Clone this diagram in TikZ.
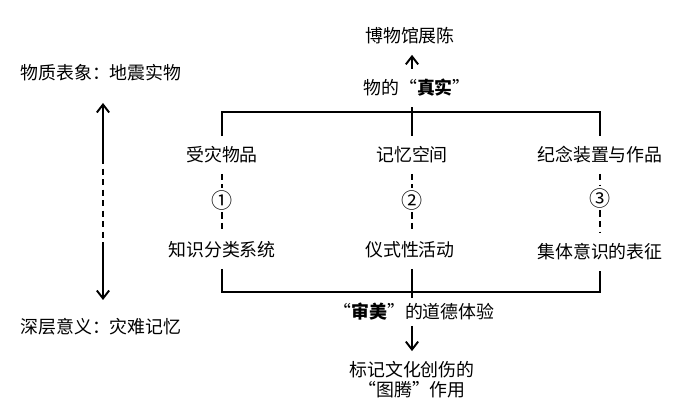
\documentclass[tikz,border=0pt]{standalone}
\usepackage{fontspec}
\setmainfont{Noto Sans CJK SC}
\usepackage{tikz}
\usetikzlibrary{arrows.meta}

\begin{document}
\begin{tikzpicture}[x=0.02cm, y=0.02cm]
\tikzstyle{every node}+=[inner sep=3pt, outer sep=3pt, font=\fontsize{10.2pt}{11.4pt}\selectfont]
\tikzstyle{num}=[inner sep=1.5pt, outer sep=0pt, font=\fontsize{12pt}{12pt}\selectfont]
\tikzstyle{link}=[black, line width=1.1pt]
\tikzstyle{arr}=[link, -{Straight Barb[length=4.5pt, width=7pt, line width=1.1pt]}]
\tikzstyle{dashlink}=[black, line width=1pt, dash pattern=on 3.5pt off 2.5pt]
\useasboundingbox (0,0) rectangle (700,-411);
\draw (410,-36) node (museum) {博物馆展陈};
\draw (417,-88) node (real) {物的“\textbf{真实}”};
\draw (222,-155) node (a1) {受灾物品};
\draw (412,-155) node (a2) {记忆空间};
\draw (600,-155) node (a3) {纪念装置与作品};
\draw (222,-200) node [num] (c1) {①};
\draw (412,-200) node [num] (c2) {②};
\draw (600,-198) node [num] (c3) {③};
\draw (222,-250) node (b1) {知识分类系统};
\draw (410,-250) node (b2) {仪式性活动};
\draw (600,-252) node (b3) {集体意识的表征};
\draw (414,-312) node [outer sep=0pt] (aesth) {“\textbf{审美}”的道德体验};
\draw (412,-380) node [align=center] (totem) {标记文化创伤的\\“图腾”作用};
\draw (101,-73) node (surf) {物质表象：地震实物};
\draw (101,-327) node (deep) {深层意义：灾难记忆};
\coordinate (top) at (412,-112);
\coordinate (bot) at (412,-292);
\coordinate (up) at (103,-103);
\coordinate (m1) at (103,-158);
\coordinate (m2) at (103,-243);
\coordinate (dn) at (103,-300);
\draw [arr] (real.north -| top) -- (museum.south -| top);
\draw [link] (real.south -| top) -- (a2.north -| top);
\draw [link] (a1.north) |- (top) -| (a3.north);
\draw [dashlink] (a1) -- (c1);
\draw [dashlink] (c1) -- (b1);
\draw [dashlink] (a2) -- (c2);
\draw [dashlink] (c2) -- (b2.north -| c2);
\draw [dashlink] (a3) -- (c3);
\draw [dashlink] (c3) -- (b3);
\draw [link] (b1.south) |- (bot) -| (b3.south);
\draw [link] (b2.south -| bot) -- (aesth.north -| bot);
\draw [arr] (aesth.south -| bot) -- (totem.north -| bot);
\draw [arr] (m1) -- (up);
\draw [dashlink, line width=1.1pt] (m1) -- (m2);
\draw [arr] (m2) -- (dn);
\end{tikzpicture}
\end{document}
